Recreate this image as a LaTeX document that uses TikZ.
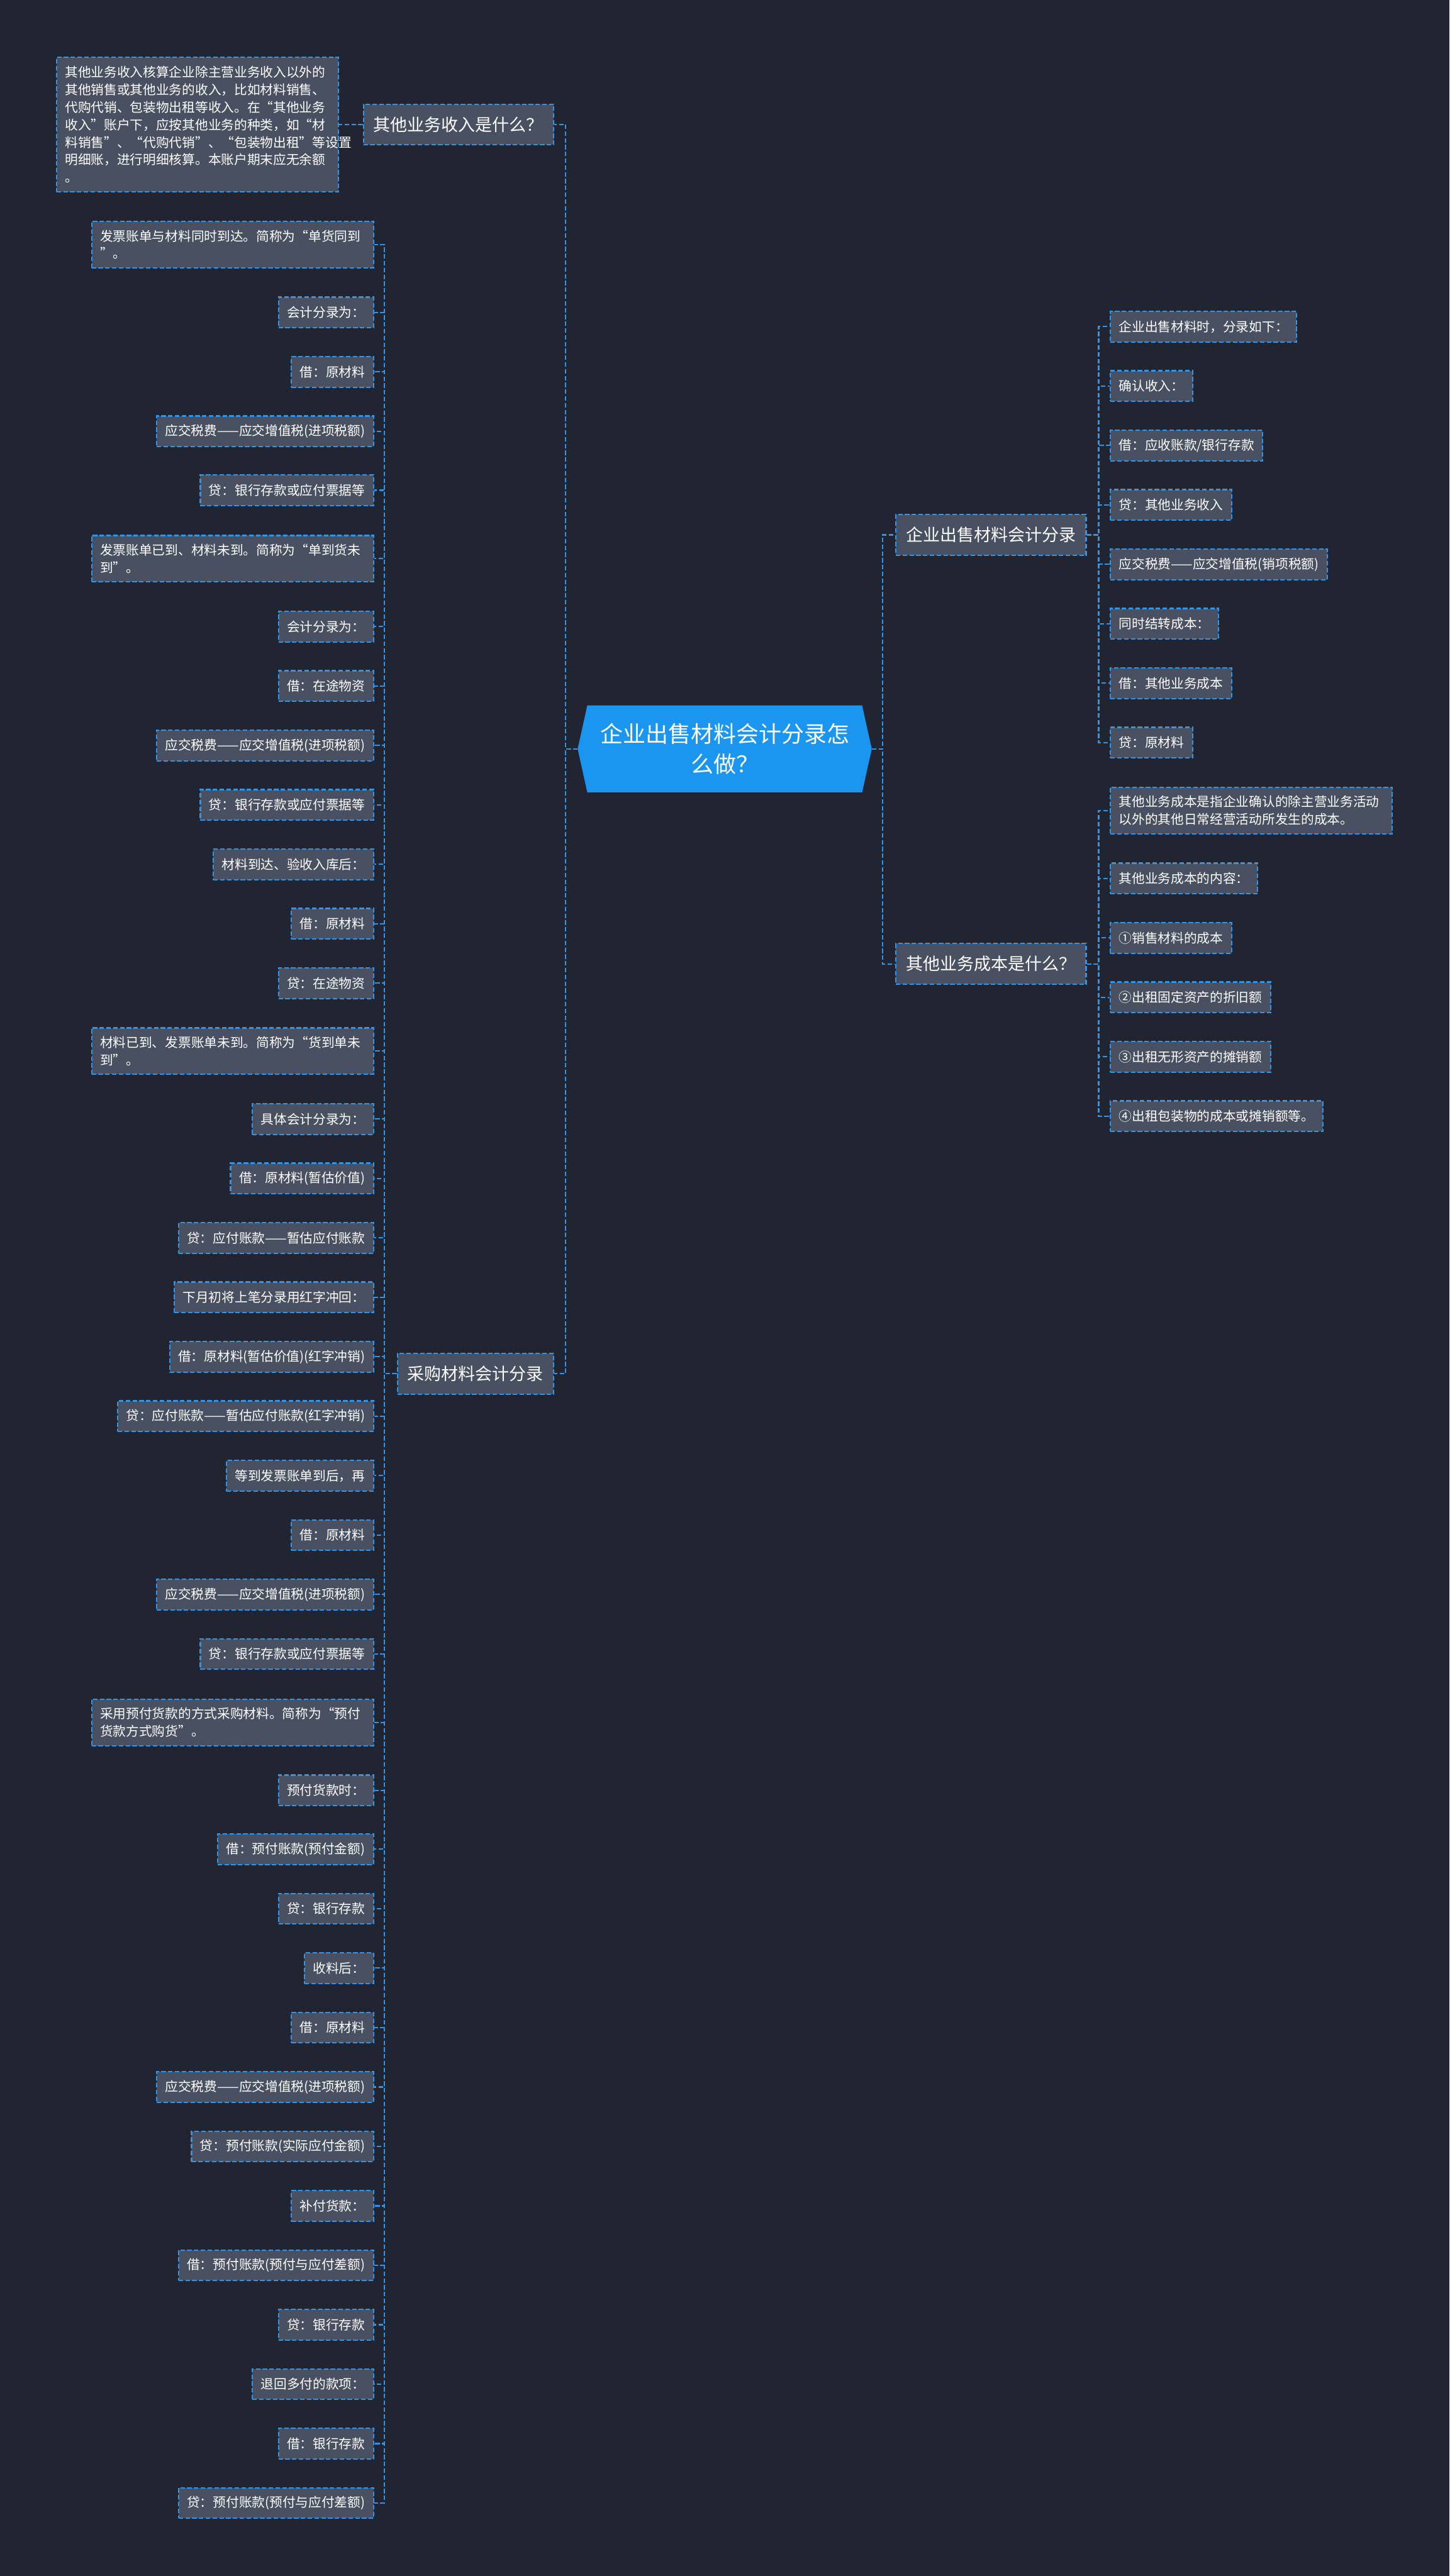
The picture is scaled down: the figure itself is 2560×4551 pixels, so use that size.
\documentclass[tikz,border=0pt]{standalone}
\usepackage{fontspec}
\setmainfont{Noto Sans CJK SC}
\usepackage{tikz}
\usetikzlibrary{backgrounds}

\definecolor{bgdark}{HTML}{212531}
\definecolor{boxgray}{HTML}{485061}
\definecolor{lineblue}{HTML}{2F95E8}
\definecolor{rootblue}{HTML}{1A96F0}

\begin{document}
\begin{tikzpicture}[x=1pt, y=-1pt,
    leaf/.style={draw=lineblue, line width=2.4pt, dash pattern=on 8pt off 4pt, fill=boxgray, text=white,
        font=\fontsize{23}{31}\selectfont, inner xsep=15pt, inner ysep=15pt, minimum height=54pt},
    wide/.style={leaf, align=left, text width=468pt},
    topic/.style={leaf, font=\fontsize{30}{36}\selectfont, inner xsep=18pt, minimum height=72pt},
    link/.style={draw=lineblue, line width=2.4pt, dash pattern=on 8pt off 4pt}
]
\begin{scope}[on background layer]
\fill[bgdark] (0,0) rectangle (2560,4551);
\end{scope}

% centre
\node[text=white, font=\fontsize{40}{53}\selectfont, align=center, minimum width=519pt, minimum height=153pt] (root) at (1280,1323) {企业出售材料会计分录怎\\么做？};
\begin{scope}[on background layer]
\fill[rootblue] ([xshift=17pt]root.north west) -- ([xshift=-17pt]root.north east) -- (root.east)
    -- ([xshift=-17pt]root.south east) -- ([xshift=17pt]root.south west) -- (root.west) -- cycle;
\end{scope}

% topics
\node[topic, anchor=east] (inc) at (979,220) {其他业务收入是什么？};
\node[topic, anchor=east] (buy) at (979,2427) {采购材料会计分录};
\node[topic, anchor=west] (sell) at (1581,945) {企业出售材料会计分录};
\node[topic, anchor=west] (cost) at (1581,1703) {其他业务成本是什么？};

\node[wide, anchor=east] (incdef) at (599,220) {其他业务收入核算企业除主营业务收入以外的\\其他销售或其他业务的收入，比如材料销售、\\代购代销、包装物出租等收入。在“其他业务\\收入”账户下，应按其他业务的种类，如“材\\料销售”、“代购代销”、“包装物出租”等设置\\明细账，进行明细核算。本账户期末应无余额\\。};

% left column
\node[wide, anchor=east] (l1) at (661,432) {发票账单与材料同时到达。简称为“单货同到\\”。};
\node[leaf, anchor=east] (l2) at (661,552) {会计分录为：};
\node[leaf, anchor=east] (l3) at (661,657) {借：原材料};
\node[leaf, anchor=east] (l4) at (661,762) {应交税费——应交增值税(进项税额)};
\node[leaf, anchor=east] (l5) at (661,866) {贷：银行存款或应付票据等};
\node[wide, anchor=east] (l6) at (661,987) {发票账单已到、材料未到。简称为“单到货未\\到”。};
\node[leaf, anchor=east] (l7) at (661,1107) {会计分录为：};
\node[leaf, anchor=east] (l8) at (661,1212) {借：在途物资};
\node[leaf, anchor=east] (l9) at (661,1317) {应交税费——应交增值税(进项税额)};
\node[leaf, anchor=east] (l10) at (661,1422) {贷：银行存款或应付票据等};
\node[leaf, anchor=east] (l11) at (661,1527) {材料到达、验收入库后：};
\node[leaf, anchor=east] (l12) at (661,1632) {借：原材料};
\node[leaf, anchor=east] (l13) at (661,1737) {贷：在途物资};
\node[wide, anchor=east] (l14) at (661,1857) {材料已到、发票账单未到。简称为“货到单未\\到”。};
\node[leaf, anchor=east] (l15) at (661,1977) {具体会计分录为：};
\node[leaf, anchor=east] (l16) at (661,2082) {借：原材料(暂估价值)};
\node[leaf, anchor=east] (l17) at (661,2187) {贷：应付账款——暂估应付账款};
\node[leaf, anchor=east] (l18) at (661,2292) {下月初将上笔分录用红字冲回：};
\node[leaf, anchor=east] (l19) at (661,2397) {借：原材料(暂估价值)(红字冲销)};
\node[leaf, anchor=east] (l20) at (661,2502) {贷：应付账款——暂估应付账款(红字冲销)};
\node[leaf, anchor=east] (l21) at (661,2607) {等到发票账单到后，再};
\node[leaf, anchor=east] (l22) at (661,2712) {借：原材料};
\node[leaf, anchor=east] (l23) at (661,2817) {应交税费——应交增值税(进项税额)};
\node[leaf, anchor=east] (l24) at (661,2922) {贷：银行存款或应付票据等};
\node[wide, anchor=east] (l25) at (661,3043) {采用预付货款的方式采购材料。简称为“预付\\货款方式购货”。};
\node[leaf, anchor=east] (l26) at (661,3163) {预付货款时：};
\node[leaf, anchor=east] (l27) at (661,3267) {借：预付账款(预付金额)};
\node[leaf, anchor=east] (l28) at (661,3372) {贷：银行存款};
\node[leaf, anchor=east] (l29) at (661,3477) {收料后：};
\node[leaf, anchor=east] (l30) at (661,3582) {借：原材料};
\node[leaf, anchor=east] (l31) at (661,3687) {应交税费——应交增值税(进项税额)};
\node[leaf, anchor=east] (l32) at (661,3792) {贷：预付账款(实际应付金额)};
\node[leaf, anchor=east] (l33) at (661,3897) {补付货款：};
\node[leaf, anchor=east] (l34) at (661,4002) {借：预付账款(预付与应付差额)};
\node[leaf, anchor=east] (l35) at (661,4107) {贷：银行存款};
\node[leaf, anchor=east] (l36) at (661,4212) {退回多付的款项：};
\node[leaf, anchor=east] (l37) at (661,4317) {借：银行存款};
\node[leaf, anchor=east] (l38) at (661,4422) {贷：预付账款(预付与应付差额)};

% right column
\node[leaf, anchor=west] (r1) at (1960,577) {企业出售材料时，分录如下：};
\node[leaf, anchor=west] (r2) at (1960,682) {确认收入：};
\node[leaf, anchor=west] (r3) at (1960,787) {借：应收账款/银行存款};
\node[leaf, anchor=west] (r4) at (1960,892) {贷：其他业务收入};
\node[leaf, anchor=west] (r5) at (1960,997) {应交税费——应交增值税(销项税额)};
\node[leaf, anchor=west] (r6) at (1960,1102) {同时结转成本：};
\node[leaf, anchor=west] (r7) at (1960,1207) {借：其他业务成本};
\node[leaf, anchor=west] (r8) at (1960,1312) {贷：原材料};

\node[wide, anchor=west] (s1) at (1960,1432) {其他业务成本是指企业确认的除主营业务活动\\以外的其他日常经营活动所发生的成本。};
\node[leaf, anchor=west] (s2) at (1960,1552) {其他业务成本的内容：};
\node[leaf, anchor=west] (s3) at (1960,1657) {①销售材料的成本};
\node[leaf, anchor=west] (s4) at (1960,1762) {②出租固定资产的折旧额};
\node[leaf, anchor=west] (s5) at (1960,1867) {③出租无形资产的摊销额};
\node[leaf, anchor=west] (s6) at (1960,1972) {④出租包装物的成本或摊销额等。};

% connectors
\draw[link] (root.west) -- ++(-21,0) |- (inc.east);
\draw[link] (root.west) -- ++(-21,0) |- (buy.east);
\draw[link] (root.east) -- ++(19,0) |- (sell.west);
\draw[link] (root.east) -- ++(19,0) |- (cost.west);
\draw[link] (inc.west) -- (incdef.east);
\foreach \i in {1,...,38}
    \draw[link] (buy.west) -- ++(-22,0) |- (l\i.east);
\foreach \i in {1,...,8}
    \draw[link] (sell.east) -- ++(21,0) |- (r\i.west);
\foreach \i in {1,...,6}
    \draw[link] (cost.east) -- ++(21,0) |- (s\i.west);
\end{tikzpicture}
\end{document}
